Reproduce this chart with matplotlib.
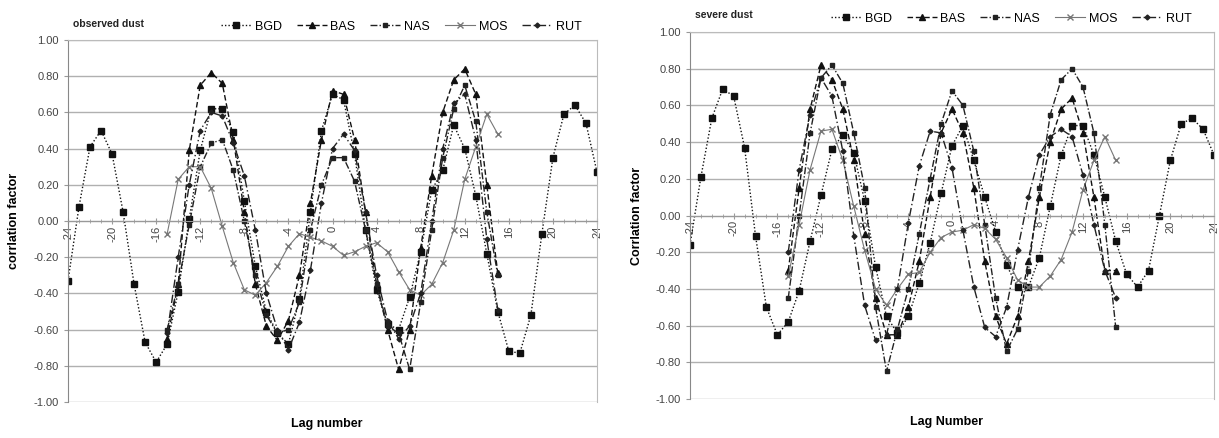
import matplotlib
matplotlib.use("Agg")
import matplotlib.pyplot as plt
import numpy as np
from matplotlib.ticker import MultipleLocator, FuncFormatter

plt.rcParams['font.family'] = ['Liberation Sans', 'DejaVu Sans']
plt.rcParams['axes.unicode_minus'] = False

lags_full = list(range(-24, 25))
lags_part = list(range(-15, 16))
series_names = ["BGD", "BAS", "NAS", "MOS", "RUT"]

# ---- observed dust ----
obs_BGD = [-0.33, 0.08, 0.41, 0.50, 0.37, 0.05, -0.35, -0.67, -0.78, -0.68, -0.39, 0.01,
           0.39, 0.62, 0.62, 0.49, 0.11, -0.25, -0.50, -0.62, -0.68, -0.43, 0.05, 0.50,
           0.70, 0.67, 0.37, -0.05, -0.38, -0.57, -0.60, -0.42, -0.17, 0.17, 0.28, 0.53,
           0.40, 0.14, -0.18, -0.50, -0.72, -0.73, -0.52, -0.07, 0.35, 0.59, 0.64, 0.54, 0.27]
obs_BAS = [-0.65, -0.35, 0.39, 0.75, 0.82, 0.76, 0.45, 0.05, -0.35, -0.58, -0.66, -0.55,
           -0.30, 0.10, 0.45, 0.72, 0.70, 0.45, 0.05, -0.35, -0.60, -0.82, -0.60, -0.15,
           0.25, 0.60, 0.78, 0.84, 0.70, 0.20, -0.29]
obs_NAS = [-0.60, -0.35, -0.02, 0.30, 0.43, 0.45, 0.28, 0.00, -0.30, -0.52, -0.62, -0.60,
           -0.45, -0.05, 0.20, 0.35, 0.35, 0.22, -0.05, -0.35, -0.58, -0.62, -0.82, -0.45,
           -0.05, 0.35, 0.62, 0.75, 0.55, 0.05, -0.30]
obs_MOS = [-0.07, 0.23, 0.30, 0.30, 0.18, -0.03, -0.23, -0.38, -0.41, -0.34, -0.25, -0.14,
           -0.07, -0.09, -0.11, -0.14, -0.19, -0.17, -0.14, -0.12, -0.17, -0.28, -0.38, -0.41,
           -0.35, -0.23, -0.05, 0.23, 0.41, 0.59, 0.48]
obs_RUT = [-0.62, -0.20, 0.20, 0.50, 0.60, 0.58, 0.43, 0.25, -0.05, -0.40, -0.60, -0.71,
           -0.56, -0.27, 0.10, 0.40, 0.48, 0.39, 0.05, -0.30, -0.55, -0.65, -0.58, -0.40,
           0.00, 0.40, 0.65, 0.70, 0.45, -0.10, -0.49]

# ---- severe dust ----
sev_BGD = [-0.16, 0.21, 0.53, 0.69, 0.65, 0.37, -0.11, -0.50, -0.65, -0.58, -0.41, -0.14,
           0.11, 0.36, 0.44, 0.34, 0.08, -0.28, -0.55, -0.64, -0.55, -0.37, -0.15, 0.12,
           0.38, 0.49, 0.30, 0.10, -0.09, -0.27, -0.39, -0.39, -0.23, 0.05, 0.33, 0.49,
           0.49, 0.33, 0.10, -0.14, -0.32, -0.39, -0.30, 0.00, 0.30, 0.50, 0.53, 0.47, 0.33]
sev_BAS = [-0.30, 0.15, 0.58, 0.82, 0.74, 0.58, 0.30, -0.10, -0.45, -0.65, -0.65, -0.50,
           -0.25, 0.10, 0.45, 0.58, 0.45, 0.15, -0.25, -0.55, -0.70, -0.55, -0.25, 0.10,
           0.40, 0.58, 0.64, 0.45, 0.10, -0.30, -0.30]
sev_NAS = [-0.45, 0.00, 0.45, 0.75, 0.82, 0.72, 0.45, 0.15, -0.50, -0.85, -0.62, -0.40,
           -0.10, 0.20, 0.50, 0.68, 0.60, 0.35, -0.05, -0.45, -0.74, -0.62, -0.30, 0.15,
           0.55, 0.74, 0.80, 0.70, 0.45, -0.05, -0.61]
sev_MOS = [-0.33, -0.05, 0.25, 0.46, 0.47, 0.30, 0.05, -0.19, -0.40, -0.49, -0.40, -0.32,
           -0.31, -0.20, -0.12, -0.09, -0.08, -0.05, -0.07, -0.13, -0.23, -0.35, -0.39, -0.39,
           -0.33, -0.24, -0.09, 0.14, 0.30, 0.43, 0.30]
sev_RUT = [-0.20, 0.25, 0.55, 0.75, 0.65, 0.35, -0.11, -0.49, -0.68, -0.65, -0.40, -0.04,
           0.27, 0.46, 0.45, 0.26, -0.08, -0.39, -0.61, -0.66, -0.50, -0.19, 0.10, 0.33,
           0.43, 0.47, 0.43, 0.22, -0.05, -0.30, -0.45]

styles = {
    "BGD": dict(linestyle=(0, (1, 1.5)), marker='s', markersize=4.5, color='#111111', lw=1.0),
    "BAS": dict(linestyle=(0, (4, 2)), marker='^', markersize=4, color='#111111', lw=1.0),
    "NAS": dict(linestyle=(0, (5, 1.5, 1, 1.5)), marker='s', markersize=3, color='#222222', lw=1.0),
    "MOS": dict(linestyle='-', marker='x', markersize=4, color='#777777', lw=0.8),
    "RUT": dict(linestyle=(0, (6, 2, 1, 2)), marker='D', markersize=2.5, color='#222222', lw=1.0),
}

fig = plt.figure(figsize=(12.19, 4.38), dpi=100)
ax1 = fig.add_axes([68/1219, 36/438, 529/1219, 362/438])
ax2 = fig.add_axes([690/1219, 39/438, 524/1219, 367/438])

panels = [
    (ax1, "observed dust", "corrlation factor", "Lag number",
     {"BGD": obs_BGD, "BAS": obs_BAS, "NAS": obs_NAS, "MOS": obs_MOS, "RUT": obs_RUT},
     (0.63, 1.037)),
    (ax2, "severe dust", "Corrlation factor", "Lag Number",
     {"BGD": sev_BGD, "BAS": sev_BAS, "NAS": sev_NAS, "MOS": sev_MOS, "RUT": sev_RUT},
     (0.613, 1.036)),
]

fmt = FuncFormatter(lambda v, pos: '%.2f' % (round(v, 2) + 0.0))

for ax, title, ylab, xlab, data, legpos in panels:
    for name in series_names:
        vals = data[name]
        xs = lags_full if len(vals) == len(lags_full) else lags_part
        ax.plot(xs, vals, label=name, **styles[name])
    ax.set_xlim(-24, 24)
    ax.set_ylim(-1.0, 1.0)
    ax.set_yticks(np.round(np.arange(-1.0, 1.01, 0.2), 2))
    ax.yaxis.set_major_formatter(fmt)
    ax.yaxis.grid(True, color='#b0b0b0', lw=1.0)
    ax.set_axisbelow(True)
    ax.spines['bottom'].set_position(('data', 0))
    ax.spines['bottom'].set_color('#999999')
    for s in ['top', 'right']:
        ax.spines[s].set_color('#bbbbbb')
    ax.spines['left'].set_color('#888888')
    ax.xaxis.set_major_locator(MultipleLocator(4))
    ax.xaxis.set_minor_locator(MultipleLocator(1))
    ax.tick_params(axis='x', which='major', direction='inout', length=5, color='#999999',
                   labelsize=8, labelcolor='#444444', labelrotation=90, pad=1)
    ax.tick_params(axis='x', which='minor', direction='inout', length=3, color='#999999')
    ax.tick_params(axis='y', direction='out', length=3, color='#999999',
                   labelsize=8, labelcolor='#444444')
    ax.set_ylabel(ylab, fontsize=9, fontweight='bold')
    ax.set_xlabel(xlab, fontsize=9, fontweight='bold')
    ax.xaxis.set_label_coords(0.49, -0.045)
    ax.yaxis.set_label_coords(-0.09, 0.5)
    ax.text(0.01, 1.045, title, transform=ax.transAxes, fontsize=7.5,
            fontweight='bold', ha='left', va='center', color='#222222')
    ax.legend(loc='center', bbox_to_anchor=legpos, ncol=5, frameon=False,
              fontsize=9, handlelength=2.4, columnspacing=1.2, handletextpad=0.3,
              borderaxespad=0)

fig.savefig("out.png", dpi=100)
